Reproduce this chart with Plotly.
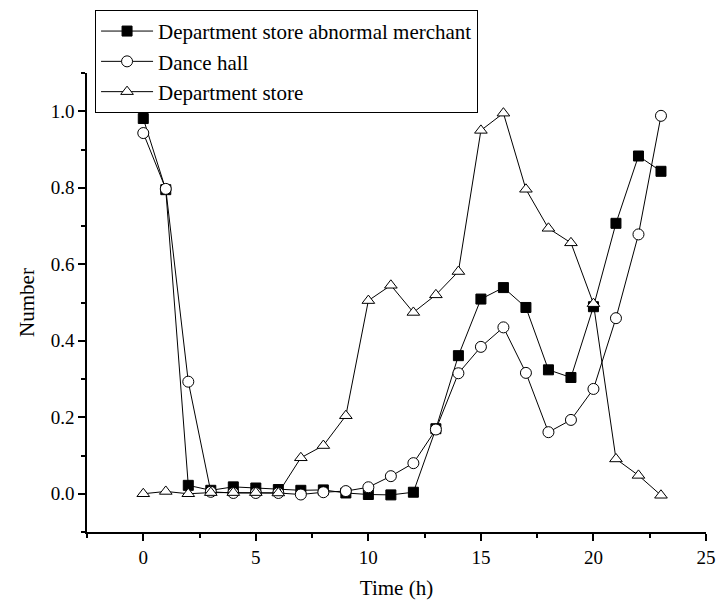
import plotly.graph_objects as go

hours = list(range(24))
abnormal_merchant = [0.981, 0.795, 0.022, 0.009, 0.018, 0.015, 0.011, 0.009, 0.010, 0.002,
                     -0.002, -0.003, 0.004, 0.170, 0.361, 0.509, 0.539, 0.487, 0.324, 0.304,
                     0.489, 0.707, 0.883, 0.843]
dance_hall = [0.943, 0.797, 0.293, 0.005, 0.002, 0.002, 0.002, -0.002, 0.004, 0.007,
              0.017, 0.046, 0.080, 0.168, 0.315, 0.384, 0.435, 0.316, 0.161, 0.193,
              0.274, 0.459, 0.678, 0.988]
department_store = [0.0, 0.006, 0.0, 0.003, 0.003, 0.003, 0.002, 0.094, 0.126, 0.204,
                    0.505, 0.545, 0.474, 0.520, 0.581, 0.950, 0.995, 0.796, 0.694, 0.656,
                    0.497, 0.091, 0.048, -0.004]

names = ["Department store abnormal merchant", "Dance hall", "Department store"]
x_ticks = [0, 5, 10, 15, 20, 25]
y_ticks = [0.0, 0.2, 0.4, 0.6, 0.8, 1.0]

FONT = "Liberation Serif, Times New Roman, serif"

fig = go.Figure()
styles = [
    dict(symbol="square", color="black", line=dict(color="black", width=1)),
    dict(symbol="circle", color="white", line=dict(color="black", width=1)),
    dict(symbol="triangle-up", color="white", line=dict(color="black", width=1)),
]
for name, ys, st in zip(names, [abnormal_merchant, dance_hall, department_store], styles):
    fig.add_trace(go.Scatter(
        x=hours, y=ys, name=name, mode="lines+markers",
        line=dict(color="black", width=1),
        marker=dict(size=11 if st["symbol"] != "square" else 10, **st),
    ))

axis_common = dict(
    showline=True, linecolor="black", linewidth=1.5, mirror=False,
    showgrid=False, zeroline=False,
    ticks="outside", ticklen=7, tickwidth=1.5, tickcolor="black",
    tickfont=dict(family=FONT, size=19, color="black"),
    ticklabeloverflow="allow", automargin=False,
)
fig.update_xaxes(
    range=[-2.5, 25], tickvals=x_ticks, ticktext=[str(v) for v in x_ticks],
    minor=dict(tickvals=[-2.5, 2.5, 7.5, 12.5, 17.5, 22.5], ticklen=4, tickwidth=1.5, tickcolor="black", ticks="outside"),
    title=dict(text="Time (h)", font=dict(family=FONT, size=21, color="black"), standoff=14),
    **axis_common,
)
fig.update_yaxes(
    range=[-0.1, 1.1], tickvals=y_ticks, ticktext=[f"{v:.1f}" for v in y_ticks],
    minor=dict(tickvals=[-0.1, 0.1, 0.3, 0.5, 0.7, 0.9, 1.1], ticklen=4, tickwidth=1.5, tickcolor="black", ticks="outside"),
    title=dict(text="Number", font=dict(family=FONT, size=21, color="black"), standoff=10),
    **axis_common,
)
fig.update_layout(
    width=717, height=602,
    margin=dict(l=87, r=11, t=72, b=70),
    plot_bgcolor="white", paper_bgcolor="white",
    font=dict(family=FONT, color="black"),
    showlegend=True,
    legend=dict(
        x=0.013, y=1.135, xanchor="left", yanchor="top",
        bgcolor="white", bordercolor="black", borderwidth=1,
        font=dict(family=FONT, size=21, color="black"),
        tracegroupgap=0, itemwidth=52,
    ),
)
fig.write_html("out.html")
